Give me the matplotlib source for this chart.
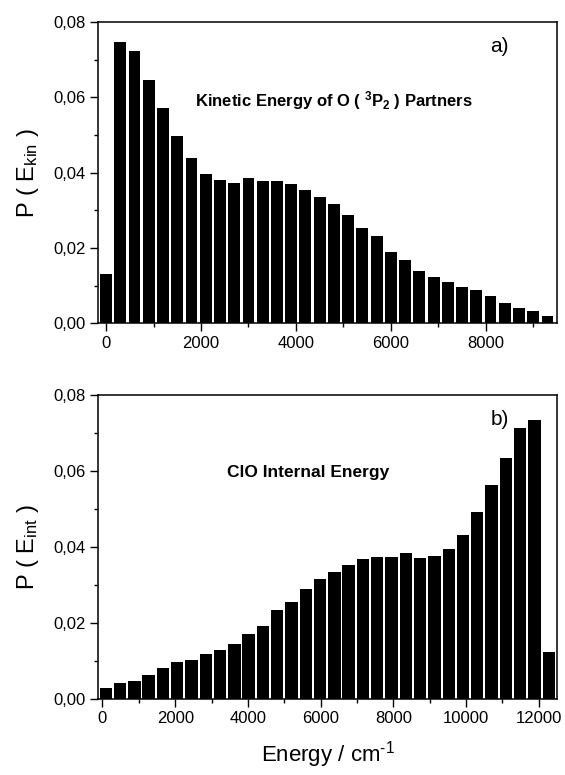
import numpy as np
import matplotlib
matplotlib.use("Agg")
import matplotlib.pyplot as plt
from matplotlib.ticker import MultipleLocator, FuncFormatter

plt.rcParams['font.family'] = ['Liberation Sans', 'DejaVu Sans']
plt.rcParams['mathtext.fontset'] = 'custom'
plt.rcParams['mathtext.rm'] = 'Liberation Sans'
plt.rcParams['mathtext.it'] = 'Liberation Sans:italic'
plt.rcParams['mathtext.bf'] = 'Liberation Sans:bold'

# a) kinetic energy distribution, bins of 300 cm-1
e_kin = np.arange(0, 9301, 300)
p_kin = [0.0132, 0.0747, 0.0723, 0.0645, 0.0571, 0.0497, 0.0438, 0.0398,
         0.0382, 0.0374, 0.0387, 0.0377, 0.0379, 0.0371, 0.0355, 0.0336,
         0.0317, 0.0289, 0.0254, 0.0231, 0.0189, 0.0168, 0.0140, 0.0123,
         0.0111, 0.0096, 0.0089, 0.0074, 0.0054, 0.0040, 0.0034, 0.0019]

# b) ClO internal energy distribution, bins of ~393 cm-1
e_int = 90 + 393 * np.arange(32)
p_int = [0.0028, 0.0043, 0.0048, 0.0063, 0.0081, 0.0096, 0.0103, 0.0118,
         0.0128, 0.0144, 0.0172, 0.0193, 0.0233, 0.0256, 0.0290, 0.0315,
         0.0334, 0.0353, 0.0369, 0.0374, 0.0374, 0.0383, 0.0370, 0.0376,
         0.0394, 0.0432, 0.0491, 0.0562, 0.0635, 0.0712, 0.0734, 0.0124]

comma = FuncFormatter(lambda v, p: f"{v:.2f}".replace('.', ','))

fig = plt.figure(figsize=(5.65, 7.75), dpi=100)
ax1 = fig.add_axes([0.1743, 0.5826, 0.8115, 0.389])
ax2 = fig.add_axes([0.1743, 0.0981, 0.8115, 0.3923])

ax1.bar(e_kin, p_kin, width=250, color='black', linewidth=0)
ax2.bar(e_int, p_int, width=340, color='black', linewidth=0)

ax1.set_xlim(-160, 9500)
ax2.set_xlim(-110, 12500)

for ax in (ax1, ax2):
    ax.set_ylim(0, 0.08)
    ax.xaxis.set_major_locator(MultipleLocator(2000))
    ax.xaxis.set_minor_locator(MultipleLocator(1000))
    ax.yaxis.set_major_locator(MultipleLocator(0.02))
    ax.yaxis.set_minor_locator(MultipleLocator(0.01))
    ax.yaxis.set_major_formatter(comma)
    ax.tick_params(which='major', direction='out', length=6, width=1, labelsize=12, pad=3)
    ax.tick_params(which='minor', direction='out', length=3, width=1)
    for s in ax.spines.values():
        s.set_linewidth(1.1)

ax1.set_ylabel(r"P ( E$_{\rm kin}$ )", fontsize=17, labelpad=9)
ax2.set_ylabel(r"P ( E$_{\rm int}$ )", fontsize=17, labelpad=9)
ax2.set_xlabel(r"Energy / cm$^{\text{-1}}$", fontsize=16, labelpad=9)

ax1.text(0.21, 0.74, r"Kinetic Energy of O ( $^{\mathbf{3}}$P$_{\mathbf{2}}$ ) Partners",
         transform=ax1.transAxes, fontsize=12, fontweight='bold', va='center')
ax2.text(0.28, 0.745, "ClO Internal Energy", transform=ax2.transAxes,
         fontsize=12.5, fontweight='bold', va='center')
ax1.text(0.855, 0.92, "a)", transform=ax1.transAxes, fontsize=15, va='center')
ax2.text(0.855, 0.92, "b)", transform=ax2.transAxes, fontsize=15, va='center')

fig.savefig("out.png", dpi=100)
